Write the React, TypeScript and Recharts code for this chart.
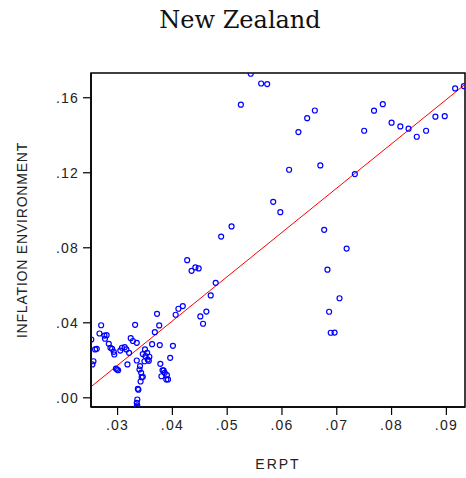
import React from 'react';
import { ScatterChart, Scatter, XAxis, YAxis, ReferenceLine, ReferenceArea } from 'recharts';

const erpt = [
  0.0252, 0.0254, 0.0256, 0.0259, 0.0262, 0.0267, 0.0270, 0.0276, 0.0280, 0.0277,
  0.0284, 0.0287, 0.0290, 0.0293, 0.0294, 0.0297, 0.0299, 0.0301, 0.0305, 0.0308,
  0.0313, 0.0316, 0.0318, 0.0321, 0.0324, 0.0328, 0.0332, 0.0335, 0.0335, 0.0337,
  0.0338, 0.0336, 0.0335, 0.0336, 0.0335, 0.0341, 0.0340, 0.0343, 0.0344, 0.0346,
  0.0342, 0.0346, 0.0350, 0.0354, 0.0351, 0.0355, 0.0358, 0.0349, 0.0357, 0.0363,
  0.0368, 0.0372, 0.0376, 0.0377, 0.0378, 0.0380, 0.0384, 0.0386, 0.0382, 0.0389,
  0.0392, 0.0390, 0.0396, 0.0401, 0.0406, 0.0411, 0.0419, 0.0451, 0.0456, 0.0462,
  0.0427, 0.0435, 0.0442, 0.0448, 0.0470, 0.0479, 0.0489, 0.0508, 0.0525, 0.0543,
  0.0562, 0.0573, 0.0584, 0.0597, 0.0613, 0.0630, 0.0646, 0.0660, 0.0670, 0.0677,
  0.0718, 0.0683, 0.0705, 0.0686, 0.0689, 0.0696, 0.0733, 0.0750, 0.0768, 0.0784,
  0.0800, 0.0816, 0.0831, 0.0846, 0.0863, 0.0880, 0.0897, 0.0916, 0.0932,
];

const inflation = [
  0.0311, 0.0178, 0.0195, 0.0258, 0.0261, 0.0343, 0.0387, 0.0332, 0.0334, 0.0315,
  0.0288, 0.0267, 0.0261, 0.0245, 0.0231, 0.0156, 0.0151, 0.0147, 0.0252, 0.0267,
  0.0270, 0.0258, 0.0178, 0.0240, 0.0318, 0.0303, 0.0389, 0.0293, 0.0199, 0.0048,
  0.0043, -0.0009, -0.0027, -0.0041, -0.0048, 0.0169, 0.0151, 0.0133, 0.0110, 0.0112,
  0.0087, 0.0233, 0.0258, 0.0240, 0.0222, 0.0204, 0.0219, 0.0195, 0.0197, 0.0286,
  0.0350, 0.0448, 0.0386, 0.0281, 0.0181, 0.0115, 0.0146, 0.0133, 0.0147, 0.0098,
  0.0098, 0.0121, 0.0213, 0.0277, 0.0443, 0.0475, 0.0489, 0.0434, 0.0395, 0.0460,
  0.0734, 0.0677, 0.0695, 0.0690, 0.0546, 0.0613, 0.0860, 0.0914, 0.1563, 0.1728,
  0.1676, 0.1673, 0.1045, 0.0990, 0.1216, 0.1417, 0.1491, 0.1532, 0.1239, 0.0896,
  0.0796, 0.0683, 0.0531, 0.0459, 0.0347, 0.0348, 0.1193, 0.1424, 0.1531, 0.1566,
  0.1467, 0.1447, 0.1435, 0.1392, 0.1424, 0.1499, 0.1502, 0.1650, 0.1662,
];

const xTicks = [0.03, 0.04, 0.05, 0.06, 0.07, 0.08, 0.09];
const yTicks = [0, 0.04, 0.08, 0.12, 0.16];
const xDomain = [0.02515, 0.0934];
const yDomain = [-0.0049, 0.1732];
const fitLine = [
  { x: 0.02515, y: 0.0059 },
  { x: 0.0934, y: 0.1671 },
];

const data = erpt.map((x, i) => ({ x, y: inflation[i] }));

const fmt = (v: number) => v.toFixed(2).replace(/^0/, '').replace(/^-0/, '-');

const tickStyle = { fontFamily: "'Liberation Sans', Arial, sans-serif", fontSize: 14, fill: '#222', letterSpacing: 1.2 };

const Dot = (props: any) => (
  <circle cx={props.cx} cy={props.cy} r={2.5} fill="none" stroke="#0000ff" strokeWidth={1.2} />
);

export default function App() {
  return (
    <div style={{ position: 'absolute', left: 0, top: 0, width: 466, height: 478, background: '#fff' }}>
      <svg width={466} height={40} style={{ position: 'absolute', left: 0, top: 0 }}>
        <text x={240} y={28} textAnchor="middle" fontFamily="'DejaVu Serif', serif" fontSize={24} fill="#111">
          New Zealand
        </text>
      </svg>
      <div style={{ position: 'absolute', left: 0, top: 0 }}>
        <ScatterChart width={466} height={478} margin={{ top: 73, right: 1, bottom: 11, left: 31 }}>
          <XAxis
            type="number"
            dataKey="x"
            domain={xDomain}
            ticks={xTicks}
            allowDataOverflow
            tickFormatter={fmt}
            tick={tickStyle}
            tickSize={8}
            tickMargin={5}
            axisLine={{ stroke: '#000', strokeWidth: 1.5 }}
            tickLine={{ stroke: '#000', strokeWidth: 1.2 }}
            height={60}
            label={{
              content: (p: any) => {
                const vb = p.viewBox;
                return (
                  <text x={vb.x + vb.width / 2} y={469} textAnchor="middle" fontFamily="'Liberation Sans', Arial, sans-serif" fontSize={14} letterSpacing={2} fill="#222">
                    ERPT
                  </text>
                );
              },
            }}
          />
          <YAxis
            type="number"
            dataKey="y"
            domain={yDomain}
            ticks={yTicks}
            allowDataOverflow
            tickFormatter={fmt}
            tick={tickStyle}
            tickSize={8}
            tickMargin={4}
            axisLine={{ stroke: '#000', strokeWidth: 1.5 }}
            tickLine={{ stroke: '#000', strokeWidth: 1.2 }}
            width={60}
            label={{
              content: (p: any) => {
                const vb = p.viewBox;
                const cy = vb.y + vb.height / 2;
                return (
                  <text x={27} y={cy} transform={`rotate(-90 27 ${cy})`} textAnchor="middle" fontFamily="'Liberation Sans', Arial, sans-serif" fontSize={14} letterSpacing={0.8} fill="#222">
                    INFLATION ENVIRONMENT
                  </text>
                );
              },
            }}
          />
          <ReferenceArea x1={xDomain[0]} x2={xDomain[1]} y1={yDomain[0]} y2={yDomain[1]} fill="none" stroke="#000" strokeWidth={1.5} ifOverflow="visible" />
          <ReferenceLine segment={fitLine} stroke="#ff0000" strokeWidth={1} ifOverflow="visible" />
          <Scatter data={data} shape={Dot} isAnimationActive={false} />
        </ScatterChart>
      </div>
    </div>
  );
}
